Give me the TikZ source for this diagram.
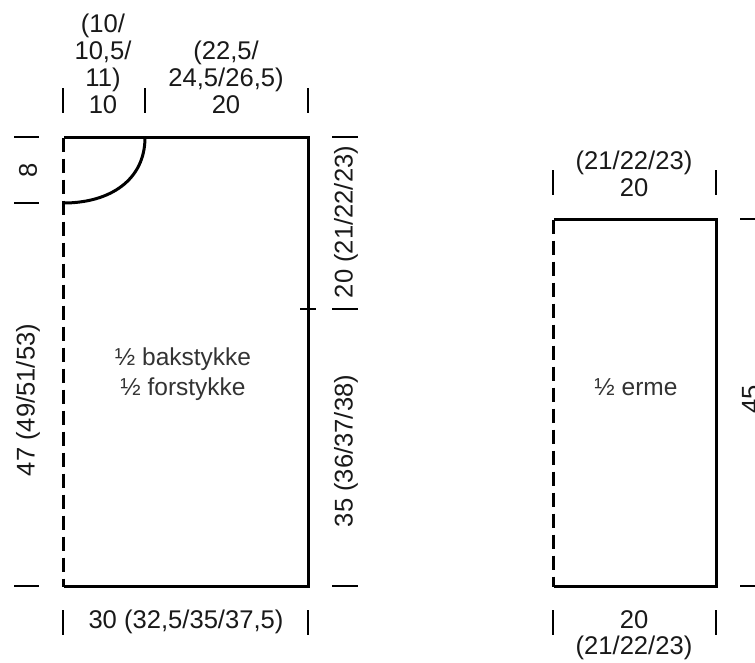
\documentclass[tikz,border=0pt]{standalone}
\usepackage{fontspec}
\setmainfont{Liberation Sans}
\tikzset{
 x=1pt,y=-1pt,
 outline/.style={line width=3pt,black},
 seam/.style={line width=3pt,black,dash pattern=on 14.5pt off 6.5pt},
 tick/.style={line width=1.3pt,black},
 lab/.style={inner sep=0pt,font=\fontsize{25.6}{26.9}\selectfont,align=center,text=black!90},
 body/.style={inner sep=0pt,font=\fontsize{24.5}{30}\selectfont,align=center,text=black!80},
}
\begin{document}
\begin{tikzpicture}
\useasboundingbox (0,0) rectangle (755,662);
\clip (0,0) rectangle (755,662);
% body piece
\coordinate (a) at (63.5,137.5);
\coordinate (n) at (145,137.5);
\coordinate (b) at (308.5,137.5);
\coordinate (c) at (308.5,586.5);
\coordinate (d) at (63.5,586.5);
\coordinate (e) at (63.5,203);
\draw[outline,line join=miter] (d) -- (c) -- (b) -- (a);
\draw[outline] (n) .. controls (145,180) and (110,203) .. (e);
\draw[seam] (a) -- (d);
\draw[outline,line width=2pt] (300,309) -- (316,309);
% sleeve
\coordinate (sa) at (553.5,219.5);
\coordinate (sb) at (716.5,219.5);
\coordinate (sc) at (716.5,586.5);
\coordinate (sd) at (553.5,586.5);
\draw[outline] (sd) -- (sc) -- (sb) -- (sa);
\draw[seam] (sa) -- (sd);
% ticks
\foreach \x in {63,145,308} \draw[tick] (\x,88) -- (\x,113);
\foreach \y in {137,203,586} \draw[tick] (14,\y) -- (39,\y);
\foreach \y in {137,309,586} \draw[tick] (332,\y) -- (358,\y);
\foreach \x in {63,308} \draw[tick] (\x,610) -- (\x,635);
\foreach \x in {553,716} {\draw[tick] (\x,170) -- (\x,195); \draw[tick] (\x,610) -- (\x,635);}
\foreach \y in {219,586} \draw[tick] (740,\y) -- (755,\y);
% labels
\node[lab,anchor=south] (t1) at (103,114) {(10/\\10,5/\\11)\\10};
\node[lab,anchor=south] (t2) at (226,114) {(22,5/\\24,5/26,5)\\20};
\node[lab,rotate=90] (l8) at (28,170) {8};
\node[lab,rotate=90] (l47) at (28,400) {47 (49/51/53)};
\node[lab,rotate=90] (r20) at (346,222) {20 (21/22/23)};
\node[lab,rotate=90] (r35) at (346,451) {35 (36/37/38)};
\node[lab] (bb) at (186,622) {30 (32,5/35/37,5)};
\node[body] (mid) at (183,374) {½ bakstykke\\½ forstykke};
\node[lab,anchor=south] (st) at (634,197) {(21/22/23)\\20};
\node[lab,anchor=north] (sbt) at (634,610) {20\\(21/22/23)};
\node[body] (sm) at (636,387) {½ erme};
\node[lab,rotate=90] (s45) at (751,399) {45};
\end{tikzpicture}
\end{document}
